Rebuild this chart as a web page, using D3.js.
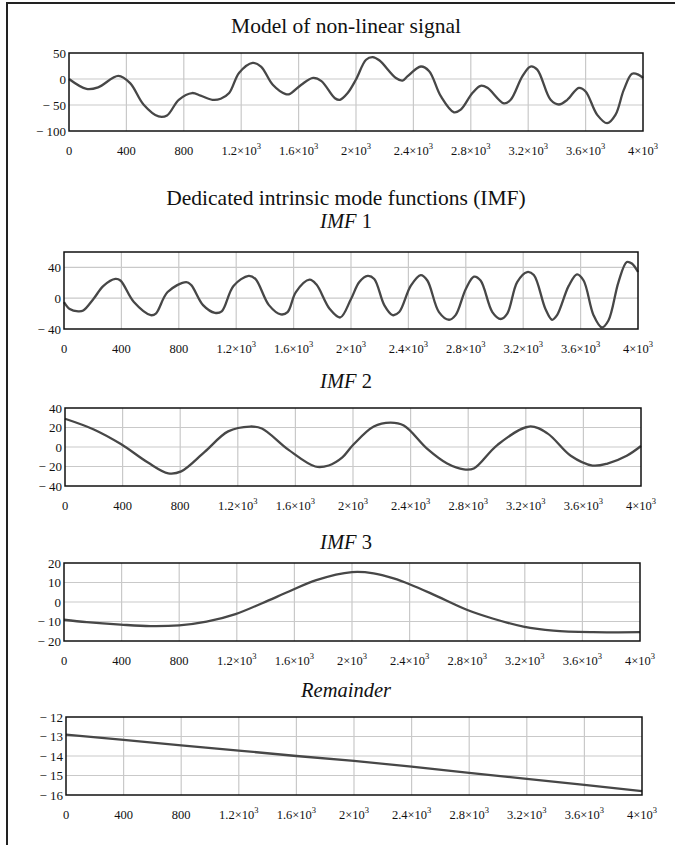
<!DOCTYPE html>
<html>
<head>
<meta charset="utf-8">
<script src="https://cdn.jsdelivr.net/npm/d3@7"></script>
<style>
  html, body { margin: 0; padding: 0; background: #fff; }
  svg { display: block; }
  text { font-family: "Liberation Serif", "Times New Roman", serif; fill: #111; }
</style>
</head>
<body>
<svg id="chart" width="675" height="845" font-family="Liberation Serif, serif"></svg>
<script>
// ---------- data ----------
const xTicks = [0, 400, 800, 1200, 1600, 2000, 2400, 2800, 3200, 3600, 4000];

const signalData = [
  [0, 0], [122, -19], [203, -16], [344, 6], [426, -8], [519, -49], [624, -72], [683, -70],
  [765, -40], [858, -27], [917, -32], [999, -40], [1057, -38], [1116, -27], [1186, 12],
  [1280, 31], [1338, 24], [1420, -11], [1510, -29], [1537, -29], [1619, -11], [1701, 2],
  [1759, -4], [1853, -37], [1888, -40], [1942, -27], [2000, -1], [2070, 37], [2116, 42],
  [2162, 36], [2278, 2], [2324, -3], [2358, 5], [2452, 24], [2510, 15], [2591, -33],
  [2683, -64], [2730, -59], [2811, -27], [2869, -13], [2916, -17], [3031, -47], [3078, -40],
  [3159, 5], [3216, 24], [3263, 18], [3356, -40], [3414, -49], [3472, -40], [3553, -17],
  [3600, -24], [3681, -69], [3750, -85], [3808, -69], [3866, -21], [3924, 10], [3970, 8], [4000, 2]
];

const imf1Data = [
  [0, -5], [40, -14], [99, -17], [134, -16], [205, -1], [275, 16], [358, 25], [393, 23],
  [487, -5], [605, -22], [640, -20], [722, 8], [852, 21], [887, 17], [969, -9], [1052, -19],
  [1099, -17], [1181, 16], [1287, 29], [1334, 25], [1428, -9], [1511, -21], [1558, -18],
  [1616, 8], [1711, 24], [1758, 18], [1852, -14], [1925, -25], [2000, -1], [2058, 21],
  [2116, 29], [2162, 25], [2232, -9], [2290, -22], [2336, -18], [2416, 16], [2486, 30],
  [2532, 23], [2613, -18], [2683, -28], [2729, -22], [2800, 12], [2857, 28], [2903, 23],
  [2985, -18], [3043, -27], [3089, -20], [3158, 21], [3228, 34], [3274, 30], [3355, -14],
  [3401, -28], [3436, -22], [3517, 16], [3575, 31], [3621, 23], [3690, -22], [3748, -38],
  [3794, -29], [3864, 21], [3922, 47], [3957, 45], [4000, 34]
];

const imf2Data = [
  [0, 29], [200, 18], [388, 3], [576, -16], [717, -27], [807, -25], [970, -5], [1133, 16],
  [1285, 21], [1367, 19], [1553, -3], [1738, -20], [1831, -19], [1924, -11], [2000, 2],
  [2144, 21], [2260, 25], [2353, 22], [2516, -2], [2654, -17], [2770, -23], [2839, -22],
  [3002, 2], [3223, 21], [3350, 14], [3512, -9], [3663, -19], [3767, -17], [3901, -9], [4000, 1]
];

const imf3Data = [
  [0, -9.1], [158, -10.3], [393, -11.6], [600, -12.4], [800, -12.0], [990, -10.1], [1191, -6.2],
  [1380, -0.5], [1566, 5.5], [1752, 11.2], [2000, 15.3], [2150, 14.7], [2289, 12.1], [2404, 9.0],
  [2566, 3.8], [2797, -4.0], [2982, -8.6], [3190, -12.6], [3398, -14.7], [3675, -15.5], [4000, -15.5]
];

const remainderData = [
  [0, -12.9], [400, -13.17], [800, -13.45], [1200, -13.72], [1600, -14.0], [2000, -14.25],
  [2400, -14.55], [2800, -14.87], [3200, -15.17], [3600, -15.48], [4000, -15.8]
];

const signalTicks = [-100, -50, 0, 50];
const imf1Ticks = [-40, 0, 40];
const imf2Ticks = [-40, -20, 0, 20, 40];
const imf3Ticks = [-20, -10, 0, 10, 20];
const remainderTicks = [-16, -15, -14, -13, -12];

// ---------- layout ----------
const panels = [
  { data: signalData, yDomain: [-100, 50], yTicks: signalTicks, left: 69, right: 643, top: 53, bottom: 131, curve: d3.curveCatmullRom.alpha(0.5) },
  { data: imf1Data, yDomain: [-40, 60], yTicks: imf1Ticks, left: 64, right: 638, top: 252, bottom: 329, curve: d3.curveCatmullRom.alpha(0.5) },
  { data: imf2Data, yDomain: [-40, 40], yTicks: imf2Ticks, left: 65, right: 641, top: 408, bottom: 486, curve: d3.curveCatmullRom.alpha(0.5) },
  { data: imf3Data, yDomain: [-20, 20], yTicks: imf3Ticks, left: 64, right: 640, top: 563, bottom: 641, curve: d3.curveCatmullRom.alpha(0.5) },
  { data: remainderData, yDomain: [-16, -12], yTicks: remainderTicks, left: 66, right: 642, top: 717, bottom: 795, curve: d3.curveLinear }
];

const svg = d3.select("#chart");

// outer border (left + top)
svg.append("path")
  .attr("d", "M7,845 L7,3 L675,3")
  .attr("fill", "none").attr("stroke", "#222").attr("stroke-width", 2);

// titles
function title(y, size, parts) {
  const t = svg.append("text").attr("x", 346).attr("y", y)
    .attr("text-anchor", "middle").attr("font-size", size);
  parts.forEach(p => t.append("tspan").attr("font-style", p[1] ? "italic" : "normal").text(p[0]));
}
title(33, 21.5, [["Model of non-linear signal", false]]);
title(205, 21.5, [["Dedicated intrinsic mode functions (IMF)", false]]);
title(228, 20.5, [["IMF", true], [" 1", false]]);
title(388, 20.5, [["IMF", true], [" 2", false]]);
title(549, 20.5, [["IMF", true], [" 3", false]]);
title(697, 20.5, [["Remainder", true]]);

function fmtY(v) {
  return v < 0 ? "\u2212 " + Math.abs(v) : String(v);
}

panels.forEach(p => {
  const x = d3.scaleLinear().domain([0, 4000]).range([p.left, p.right]);
  const y = d3.scaleLinear().domain(p.yDomain).range([p.bottom, p.top]);
  const g = svg.append("g");

  // grid
  g.selectAll("line.vg").data(xTicks.slice(1, -1)).join("line")
    .attr("x1", d => x(d)).attr("x2", d => x(d))
    .attr("y1", p.top).attr("y2", p.bottom)
    .attr("stroke", "#c9c9c9").attr("stroke-width", 1.2);
  g.selectAll("line.hg").data(p.yTicks.filter(v => v > p.yDomain[0] && v < p.yDomain[1])).join("line")
    .attr("x1", p.left).attr("x2", p.right)
    .attr("y1", d => y(d)).attr("y2", d => y(d))
    .attr("stroke", "#c9c9c9").attr("stroke-width", 1.2);

  // line
  const line = d3.line().x(d => x(d[0])).y(d => y(d[1])).curve(p.curve);
  g.append("path").datum(p.data).attr("d", line)
    .attr("fill", "none").attr("stroke", "#474747").attr("stroke-width", 2.3)
    .attr("stroke-linejoin", "round");

  // frame
  g.append("rect").attr("x", p.left).attr("y", p.top)
    .attr("width", p.right - p.left).attr("height", p.bottom - p.top)
    .attr("fill", "none").attr("stroke", "#111").attr("stroke-width", 1.5);

  // y labels
  g.selectAll("text.yl").data(p.yTicks).join("text")
    .attr("x", p.left - 3).attr("y", d => y(d) + 4.5)
    .attr("text-anchor", "end").attr("font-size", 13)
    .text(fmtY);

  // x labels
  xTicks.forEach(v => {
    const t = g.append("text").attr("x", x(v)).attr("y", p.bottom + 24)
      .attr("text-anchor", "middle").attr("font-size", 12.5);
    if (v < 1000) {
      t.text(v);
    } else {
      const m = v / 1000;
      t.append("tspan").text(m + "\u00d710");
      t.append("tspan").attr("font-size", 8.5).attr("dy", -6).text("3");
    }
  });
});
</script>
</body>
</html>
